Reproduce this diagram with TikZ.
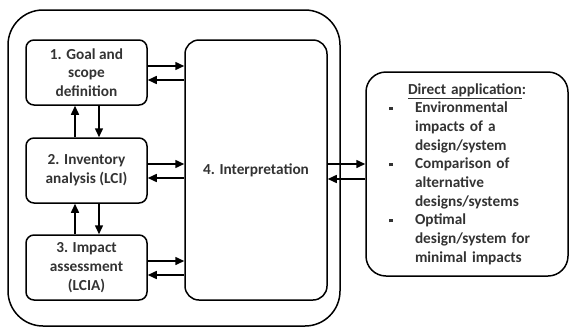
\documentclass[tikz,border=0pt]{standalone}
\usepackage{fontspec}
\setmainfont{Carlito}
\usetikzlibrary{arrows.meta}

\newcommand{\sqbullet}{\makebox[29pt][l]{\hspace*{3pt}\rule[2.5pt]{3.5pt}{3.5pt}}}

\begin{document}
\begin{tikzpicture}[x=1pt, y=-1pt, >={Triangle[length=9pt,width=8pt]}, line width=1.5pt,
    every node/.style={align=center, font=\fontsize{15.3}{18.7}\selectfont\bfseries, text=black!80},
    stage/.style={draw, rounded corners=8pt, minimum width=121pt, minimum height=65pt, inner sep=0pt}]
  \useasboundingbox (0,0) rectangle (570,327);

  % outer frame and the four phases
  \node[draw, rounded corners=35pt, minimum width=332pt, minimum height=316pt] (lca) at (174,168) {};
  \foreach \y/\n/\txt in {72.5/goal/{1. Goal and\\scope\\definition},
                          170.5/inv/{2. Inventory\\analysis (LCI)},
                          267.5/impact/{3. Impact\\assessment\\(LCIA)}} {
    \node[stage] (\n) at (86.5,\y) {\txt};
  }
  \node[draw, rounded corners=14pt, minimum width=142pt, minimum height=260pt] (interp) at (256,170) {4. Interpretation};

  \node[draw, rounded corners=20pt, minimum width=202pt, minimum height=204pt, text width=162pt, align=left] (direct) at (467,174) {%
    \makebox[162pt][c]{\underline{Direct application}:}\\
    \sqbullet Environmental\\
    \hspace*{29pt}impacts of a\\
    \hspace*{29pt}design/system\\
    \sqbullet Comparison of\\
    \hspace*{29pt}alternative\\
    \hspace*{29pt}designs/systems\\
    \sqbullet Optimal\\
    \hspace*{29pt}design/system for\\
    \hspace*{29pt}minimal impacts};

  % arrows
  \foreach \n in {goal,inv,impact} {
    \draw[->] ([yshift=6.5pt]\n.east) -- ([yshift=6.5pt]\n.east -| interp.west);
    \draw[<-] ([yshift=-7.5pt]\n.east) -- ([yshift=-7.5pt]\n.east -| interp.west);
  }
  \foreach \a/\b in {goal/inv, inv/impact} {
    \draw[->] ([xshift=-11.5pt]\b.north) -- ([xshift=-11.5pt]\b.north |- \a.south);
    \draw[->] ([xshift=12.5pt]\a.south) -- ([xshift=12.5pt]\a.south |- \b.north);
  }
  \draw[->] ([yshift=6pt]interp.east) -- ([yshift=6pt]interp.east -| direct.west);
  \draw[<-] ([yshift=-9pt]interp.east) -- ([yshift=-9pt]interp.east -| direct.west);
\end{tikzpicture}
\end{document}
